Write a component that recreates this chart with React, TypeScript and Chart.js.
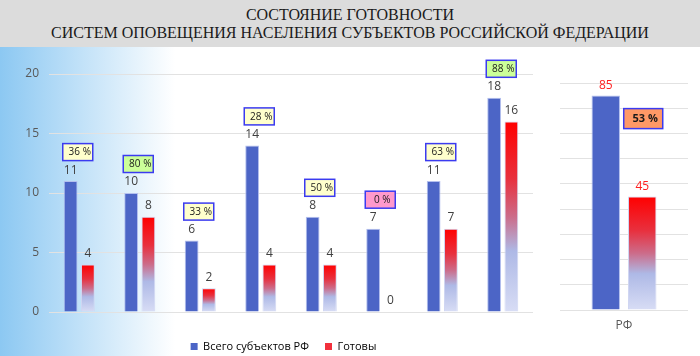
import React, { useEffect, useRef } from "react";
import { Chart, registerables } from "chart.js";

Chart.register(...registerables);

// ---- data ----
const titleLines = ["СОСТОЯНИЕ ГОТОВНОСТИ", "СИСТЕМ ОПОВЕЩЕНИЯ НАСЕЛЕНИЯ СУБЪЕКТОВ РОССИЙСКОЙ ФЕДЕРАЦИИ"];
const categories = ["ДФО", "СФО", "УФО", "ПФО", "ЮФО", "СКФО", "СЗФО", "ЦФО"];
const totalSubjects = [11, 10, 6, 14, 8, 7, 11, 18];
const readySubjects = [4, 8, 2, 4, 4, 0, 7, 16];
const readyPercent = [36, 80, 33, 28, 50, 0, 63, 88];
const rfCategory = ["РФ"];
const rfTotal = [85];
const rfReady = [45];
const rfPercent = [53];
const seriesNames = ["Всего субъектов РФ", "Готовы"];
const leftTickMax = 20;
const leftTickStep = 5;
const rightTickMax = 90;
const rightTickStep = 10;

// ---- styles ----
const FONT = '"Open Sans", "Noto Sans", sans-serif';
const BLUE = "#4c65c6";
const BAR_BORDER = "#b4c0ee";
const GRID = "#e2e2e2";
const TEXT = "#404040";
const TICK = "#595959";
const BOX_BORDER = "#3b3bf0";

function readyGradient(c: any) {
  const chart = c.chart;
  if (!chart.chartArea || c.type !== "data") return "#ff0000";
  const y = chart.scales.y;
  const v = Number(c.raw) || 0;
  const top = y.getPixelForValue(v);
  const base = y.getPixelForValue(0);
  if (base - top < 1) return "#d6dcf4";
  const g = chart.ctx.createLinearGradient(0, top, 0, base);
  g.addColorStop(0, "#ff0000");
  g.addColorStop(0.3, "#e8303e");
  g.addColorStop(0.5, "#cc6c8a");
  g.addColorStop(0.68, "#aeb9e6");
  g.addColorStop(1, "#d8ddf5");
  return g;
}

function pctFill(p: number) {
  if (p === 0) return "#ff99cc";
  if (p >= 80) return "#ccff99";
  return "#ffffcc";
}

function drawBox(ctx: CanvasRenderingContext2D, cx: number, cy: number, w: number, h: number, fill: string, text: string, font: string) {
  ctx.fillStyle = fill;
  ctx.fillRect(cx - w / 2, cy - h / 2, w, h);
  ctx.lineWidth = 1.5;
  ctx.strokeStyle = BOX_BORDER;
  ctx.strokeRect(cx - w / 2, cy - h / 2, w, h);
  ctx.fillStyle = "#1a1a1a";
  ctx.font = font;
  ctx.textAlign = "center";
  ctx.textBaseline = "middle";
  ctx.fillText(text, cx + 2, cy + 0.5);
}

const leftLabels = {
  id: "leftLabels",
  afterDatasetsDraw(chart: any) {
    const ctx = chart.ctx;
    ctx.save();
    chart.data.datasets.forEach((ds: any, di: number) => {
      const meta = chart.getDatasetMeta(di);
      meta.data.forEach((bar: any, i: number) => {
        ctx.fillStyle = TEXT;
        ctx.font = `12px ${FONT}`;
        ctx.textAlign = "center";
        ctx.textBaseline = "bottom";
        ctx.fillText(String(ds.data[i]), bar.x, bar.y - 5);
      });
    });
    const xs = chart.scales.x;
    const blue = chart.getDatasetMeta(0).data;
    readyPercent.forEach((p, i) => {
      const cx = xs.getPixelForValue(i) - 1.5;
      const cy = blue[i].y - 29;
      drawBox(ctx, cx, cy, 30, 17, pctFill(p), `${p} %`, `10px ${FONT}`);
    });
    ctx.restore();
  },
};

const rightLabels = {
  id: "rightLabels",
  afterDatasetsDraw(chart: any) {
    const ctx = chart.ctx;
    ctx.save();
    chart.data.datasets.forEach((ds: any, di: number) => {
      const meta = chart.getDatasetMeta(di);
      meta.data.forEach((bar: any, i: number) => {
        ctx.fillStyle = "#ff2020";
        ctx.font = `12px ${FONT}`;
        ctx.textAlign = "center";
        ctx.textBaseline = "bottom";
        ctx.fillText(String(ds.data[i]), bar.x, bar.y - 4);
      });
    });
    const blue = chart.getDatasetMeta(0).data;
    const red = chart.getDatasetMeta(1).data;
    rfPercent.forEach((p, i) => {
      const cx = red[i].x + 1;
      const cy = blue[i].y + 23;
      drawBox(ctx, cx, cy, 39, 20, "#ff9966", `${p} %`, `bold 11px ${FONT}`);
    });
    ctx.restore();
  },
};

export default function App() {
  const leftRef = useRef<HTMLCanvasElement>(null);
  const rightRef = useRef<HTMLCanvasElement>(null);

  useEffect(() => {
    const left = new Chart(leftRef.current as HTMLCanvasElement, {
      type: "bar",
      data: {
        labels: categories,
        datasets: [
          {
            label: seriesNames[0],
            data: totalSubjects,
            backgroundColor: BLUE,
            borderColor: BAR_BORDER,
            borderWidth: 1,
            categoryPercentage: 0.57,
            barPercentage: 0.8,
          },
          {
            label: seriesNames[1],
            data: readySubjects,
            backgroundColor: readyGradient,
            borderColor: "#d0d6f2",
            borderWidth: 1,
            categoryPercentage: 0.57,
            barPercentage: 0.8,
          },
        ],
      },
      options: {
        animation: false,
        responsive: false,
        maintainAspectRatio: false,
        layout: { padding: { top: 26, right: 0, left: 0, bottom: 0 } },
        scales: {
          x: {
            grid: { display: false },
            border: { display: false },
            ticks: { color: TICK, font: { family: FONT, size: 12 }, padding: 4 },
            afterFit: (a: any) => {
              a.height = 13;
            },
          },
          y: {
            min: 0,
            max: leftTickMax,
            ticks: { stepSize: leftTickStep, color: TICK, font: { family: FONT, size: 12 }, padding: 10 },
            grid: { color: GRID, drawTicks: false },
            border: { display: false },
            afterFit: (a: any) => {
              a.width = 49;
            },
          },
          spacer: {
            type: "linear",
            position: "right",
            display: true,
            grid: { display: false },
            border: { display: false },
            ticks: { display: false },
            afterFit: (a: any) => {
              a.width = 34;
            },
          },
        },
        plugins: {
          title: { display: false },
          tooltip: { enabled: false },
          legend: {
            position: "bottom",
            labels: {
              boxWidth: 7,
              boxHeight: 7,
              padding: 16,
              color: TEXT,
              font: { family: FONT, size: 11 },
              generateLabels: () => [
                { text: seriesNames[0], fillStyle: BLUE, strokeStyle: BLUE, lineWidth: 0, datasetIndex: 0, hidden: false },
                { text: seriesNames[1], fillStyle: "#f2303c", strokeStyle: "#f2303c", lineWidth: 0, datasetIndex: 1, hidden: false },
              ],
            },
          },
        },
      },
      plugins: [leftLabels],
    } as any);

    const right = new Chart(rightRef.current as HTMLCanvasElement, {
      type: "bar",
      data: {
        labels: rfCategory,
        datasets: [
          {
            label: seriesNames[0],
            data: rfTotal,
            backgroundColor: BLUE,
            borderColor: BAR_BORDER,
            borderWidth: 1,
            categoryPercentage: 0.57,
            barPercentage: 0.78,
          },
          {
            label: seriesNames[1],
            data: rfReady,
            backgroundColor: readyGradient,
            borderColor: "#d0d6f2",
            borderWidth: 1,
            categoryPercentage: 0.57,
            barPercentage: 0.78,
          },
        ],
      },
      options: {
        animation: false,
        responsive: false,
        maintainAspectRatio: false,
        layout: { padding: { top: 35, right: 12, left: 15, bottom: 20 } },
        scales: {
          x: {
            grid: { display: false },
            border: { display: false },
            ticks: { color: TICK, font: { family: FONT, size: 12 }, padding: 0 },
            afterFit: (a: any) => {
              a.height = 26;
            },
          },
          y: {
            min: 0,
            max: rightTickMax,
            ticks: { display: false, stepSize: rightTickStep },
            grid: { color: GRID, drawTicks: false },
            border: { display: false },
            afterFit: (a: any) => {
              a.width = 0;
            },
          },
        },
        plugins: {
          legend: { display: false },
          tooltip: { enabled: false },
        },
      },
      plugins: [rightLabels],
    } as any);

    return () => {
      left.destroy();
      right.destroy();
    };
  }, []);

  return (
    <div style={{ position: "absolute", left: 0, top: 0, width: 700, height: 356, overflow: "hidden", background: "#ffffff" }}>
      <div
        style={{
          position: "absolute",
          left: 0,
          top: 0,
          width: 700,
          height: 47,
          background: "#dcdcdc",
          fontFamily: '"Liberation Serif", "Times New Roman", serif',
          fontSize: 16,
          lineHeight: "18px",
          color: "#1a1a1a",
          textAlign: "center",
          paddingTop: 6,
          boxSizing: "border-box",
        }}
      >
        <div>{titleLines[0]}</div>
        <div>{titleLines[1]}</div>
      </div>
      <div
        style={{
          position: "absolute",
          left: 0,
          top: 47,
          width: 700,
          height: 309,
          background: "linear-gradient(90deg, #8cc8f2 0px, #ffffff 175px)",
        }}
      />
      <canvas ref={leftRef} width={567} height={314} style={{ position: "absolute", left: 0, top: 48, width: 567, height: 314 }} />
      <canvas ref={rightRef} width={155} height={308} style={{ position: "absolute", left: 545, top: 48, width: 155, height: 308 }} />
    </div>
  );
}
